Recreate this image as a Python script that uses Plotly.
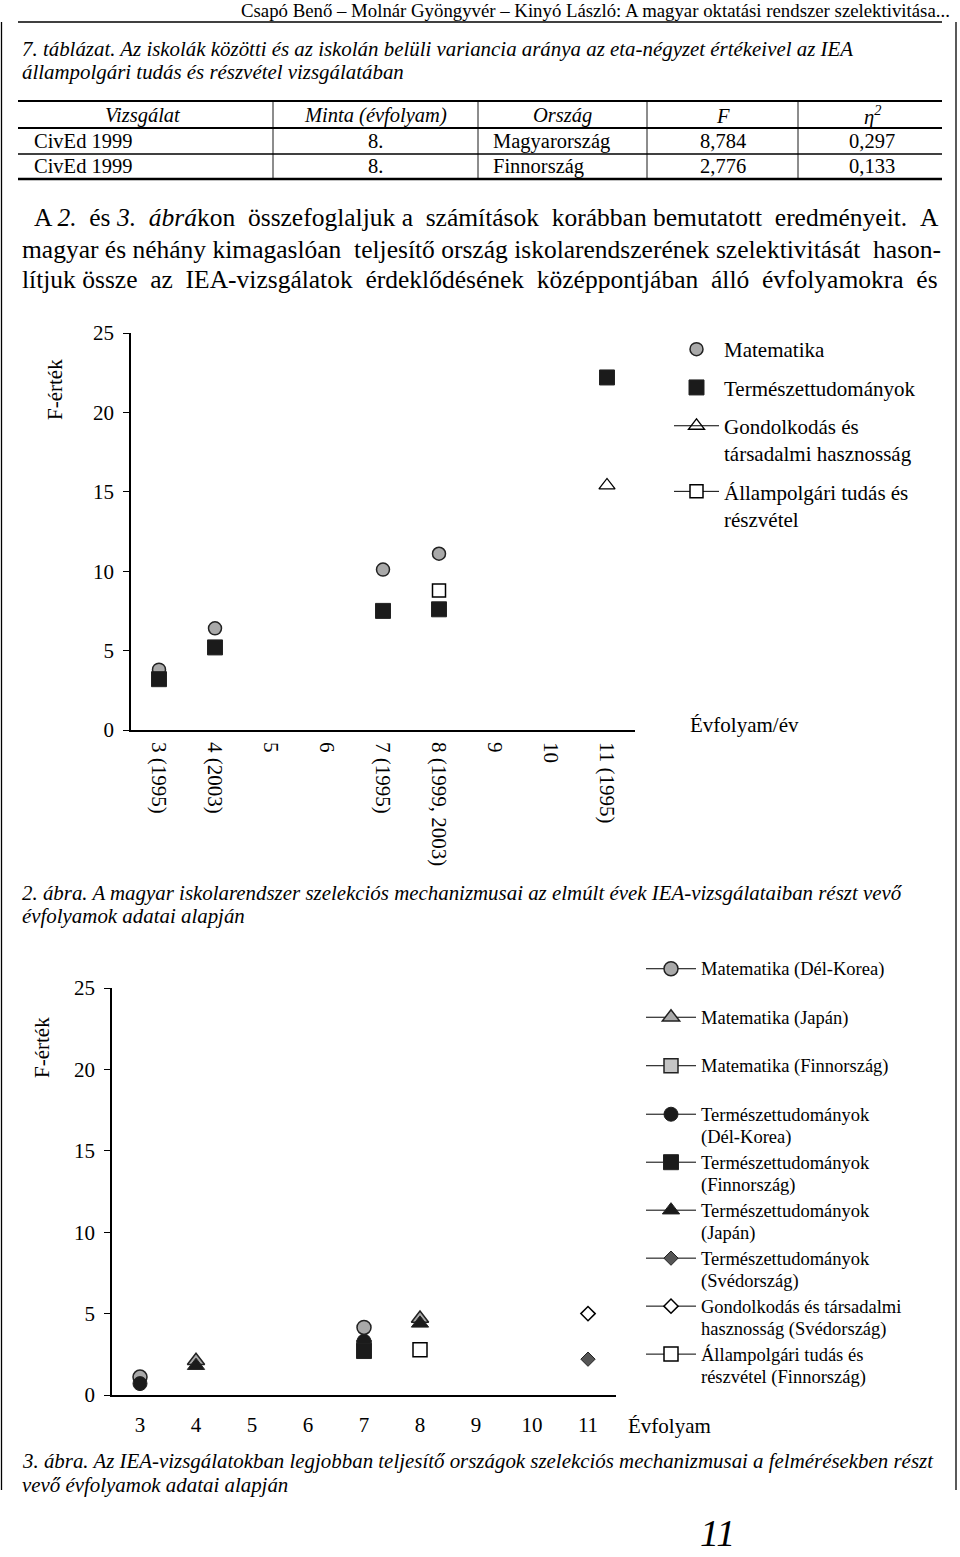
import plotly.graph_objects as go

W, H = 960, 1557
SERIF = "Liberation Serif"

# ---------------- data ----------------
grades = [3, 4, 5, 6, 7, 8, 9, 10, 11]
ticktext_fig2 = ["3 (1995)", "4 (2003)", "5", "6", "7 (1995)", "8 (1999, 2003)", "9", "10", "11 (1995)"]
ticktext_fig3 = ["3", "4", "5", "6", "7", "8", "9", "10", "11"]

# Figure 2 (Hungary)
hu_math = [3.8, 6.4, None, None, 10.1, 11.1, None, None, None]
hu_sci = [3.2, 5.2, None, None, 7.5, 7.6, None, None, 22.2]
hu_think = [None, None, None, None, None, None, None, None, 15.4]
hu_civic = [None, None, None, None, None, 8.784, None, None, None]

# Figure 3 (top performing countries)
kr_math = [1.1, None, None, None, 4.15, None, None, None, None]
jp_math = [None, 2.1, None, None, None, 4.7, None, None, None]
fi_math = [None, None, None, None, 2.9, None, None, None, None]
kr_sci = [0.7, None, None, None, 3.3, None, None, None, None]
fi_sci = [None, None, None, None, 2.7, None, None, None, None]
jp_sci = [None, 1.8, None, None, None, 4.4, None, None, None]
se_sci = [None, None, None, None, None, None, None, None, 2.2]
se_think = [None, None, None, None, None, None, None, None, 5.0]
fi_civic = [None, None, None, None, None, 2.776, None, None, None]

yticks = [0, 5, 10, 15, 20, 25]

# table
table_head = ["Vizsgálat", "Minta (évfolyam)", "Ország", "F", "η<sup>2</sup>"]
table_rows = [
    ["CivEd 1999", "8.", "Magyarország", "8,784", "0,297"],
    ["CivEd 1999", "8.", "Finnország", "2,776", "0,133"],
]


def X(px):
    return px / W


def Y(py):
    return 1 - py / H


fig = go.Figure()

GRAY = "#a9a9a9"
DARK = "#1b1b1b"
OUT = "#222222"

# ---------- chart 1 traces ----------
fig.add_trace(go.Scatter(x=grades, y=hu_math, mode="markers", name="Matematika",
                         marker=dict(symbol="circle", size=13, color=GRAY, line=dict(color=OUT, width=1.5)),
                         xaxis="x", yaxis="y", legend="legend", legendgroup="a1"))
fig.add_trace(go.Scatter(x=grades, y=hu_sci, mode="markers", name="Természettudományok",
                         marker=dict(symbol="square", size=15, color=DARK, line=dict(color=OUT, width=1)),
                         xaxis="x", yaxis="y", legend="legend", legendgroup="a2"))
fig.add_trace(go.Scatter(x=grades, y=hu_think, mode="lines+markers", name="Gondolkodás és<br>társadalmi hasznosság",
                         line=dict(color="black", width=1),
                         marker=dict(symbol="triangle-up-open", size=14, color="black", line=dict(width=1.3)),
                         xaxis="x", yaxis="y", legend="legend", legendgroup="a3"))
fig.add_trace(go.Scatter(x=grades, y=hu_civic, mode="lines+markers", name="Állampolgári tudás és<br>részvétel",
                         line=dict(color="black", width=1),
                         marker=dict(symbol="square", size=13, color="white", line=dict(color="black", width=1.5)),
                         xaxis="x", yaxis="y", legend="legend", legendgroup="a4"))

# ---------- chart 2 traces ----------
ln = dict(color="black", width=1)
series2 = [
    (kr_math, "Matematika (Dél-Korea)", dict(symbol="circle", size=14, color=GRAY, line=dict(color=OUT, width=1.5)), "b1"),
    (jp_math, "Matematika (Japán)", dict(symbol="triangle-up", size=15, color=GRAY, line=dict(color=OUT, width=1.5)), "b2"),
    (fi_math, "Matematika (Finnország)", dict(symbol="square", size=14, color="#c4c4c4", line=dict(color=OUT, width=1.5)), "b3"),
    (kr_sci, "Természettudományok<br>(Dél-Korea)", dict(symbol="circle", size=14, color=DARK, line=dict(color=OUT, width=1)), "b4"),
    (fi_sci, "Természettudományok<br>(Finnország)", dict(symbol="square", size=15, color=DARK, line=dict(color=OUT, width=1)), "b4"),
    (jp_sci, "Természettudományok<br>(Japán)", dict(symbol="triangle-up", size=15, color=DARK, line=dict(color=OUT, width=1)), "b4"),
    (se_sci, "Természettudományok<br>(Svédország)", dict(symbol="diamond", size=11, color="#555555", line=dict(color=OUT, width=1)), "b4"),
    (se_think, "Gondolkodás és társadalmi<br>hasznosság (Svédország)", dict(symbol="diamond", size=11, color="white", line=dict(color="black", width=1.5)), "b4"),
    (fi_civic, "Állampolgári tudás és<br>részvétel (Finnország)", dict(symbol="square", size=14, color="white", line=dict(color="black", width=1.5)), "b4"),
]


def big(s):
    return "<br>".join('<span style="font-size:18.5px">' + p + "</span>" for p in s.split("<br>"))


for vals, name, mk, grp in series2:
    fig.add_trace(go.Scatter(x=grades, y=vals, mode="lines+markers", name=big(name), connectgaps=False,
                             line=ln, marker=mk, xaxis="x2", yaxis="y2",
                             legend="legend2", legendgroup=grp))

axis_common = dict(showgrid=False, zeroline=False, showline=True, linecolor="black", linewidth=1.6,
                   tickfont=dict(family=SERIF, size=21, color="black"))

fig.update_layout(
    width=W, height=H, margin=dict(l=0, r=0, t=0, b=0, pad=0, autoexpand=False),
    paper_bgcolor="white", plot_bgcolor="white",
    font=dict(family=SERIF, color="black"),
    xaxis=dict(domain=[X(131), X(635)], range=[2.5, 11.5], tickvals=grades, ticktext=ticktext_fig2,
               tickangle=90, ticks="", anchor="y", ticklabelstandoff=6, **axis_common),
    yaxis=dict(domain=[Y(730), Y(333)], range=[0, 25], tickvals=yticks, ticks="outside", ticklen=6,
               tickcolor="black", anchor="x", ticklabelstandoff=5, **axis_common),
    xaxis2=dict(domain=[X(112), X(616)], range=[2.5, 11.5], tickvals=grades, ticktext=ticktext_fig3,
                ticks="", anchor="y2", ticklabelstandoff=10, **axis_common),
    yaxis2=dict(domain=[Y(1395), Y(988)], range=[0, 25], tickvals=yticks, ticks="outside", ticklen=6,
                tickcolor="black", anchor="x2", ticklabelstandoff=5, **axis_common),
    legend=dict(x=X(669), y=Y(329), xanchor="left", yanchor="top", traceorder="grouped",
                tracegroupgap=8, valign="top", itemwidth=45, bgcolor="rgba(0,0,0,0)",
                font=dict(family=SERIF, size=21, color="black")),
    legend2=dict(x=X(641), y=Y(951), xanchor="left", yanchor="top", traceorder="grouped",
                 tracegroupgap=23, valign="top", itemwidth=50, bgcolor="rgba(0,0,0,0)",
                 font=dict(family=SERIF, size=17.3, color="black")),
    showlegend=True,
)

ann = []


def text(px, py, s, size, anchor="left", italic=False, angle=0, yanchor="middle"):
    if italic:
        s = "<i>" + s + "</i>"
    ann.append(dict(x=X(px), y=Y(py), xref="paper", yref="paper", text=s, showarrow=False,
                    xanchor=anchor, yanchor=yanchor, textangle=angle,
                    font=dict(family=SERIF, size=size, color="black")))


def spread(line, n):
    """Approximate justified text by adding n non-breaking spaces evenly over the gaps."""
    words = line.split(" ")
    gaps = len(words) - 1
    out = words[0]
    for i in range(gaps):
        k = (n * (i + 1)) // gaps - (n * i) // gaps
        out += " " + "&nbsp;" * k + words[i + 1]
    return out


# header
text(952, 11, "Csapó Benő – Molnár Gyöngyvér – Kinyó László: A magyar oktatási rendszer szelektivitása...", 18.8, anchor="right")
# table caption
text(20, 49, "7. táblázat. Az iskolák közötti és az iskolán belüli variancia aránya az eta-négyzet értékeivel az IEA", 20.9, italic=True)
text(20, 72, "állampolgári tudás és részvétel vizsgálatában", 20.9, italic=True)

# table
col_centers = [143, 375, 562, 723, 872]
row_y = [141.5, 166.5]
head_y = 116
for c, h in zip(col_centers, table_head):
    text(c, head_y, h, 20.5, anchor="center", italic=True)
for ry, row in zip(row_y, table_rows):
    text(32, ry, row[0], 20.5)
    text(375, ry, row[1], 20.5, anchor="center")
    text(491, ry, row[2], 20.5)
    text(723, ry, row[3], 20.5, anchor="center")
    text(872, ry, row[4], 20.5, anchor="center")

# body paragraph
text(32, 217, spread("A <i>2.</i> és <i>3.</i> <i>ábrá</i>kon összefoglaljuk a számítások korábban bemutatott eredményeit. A", 7), 25.5)
text(20, 249, spread("magyar és néhány kimagaslóan teljesítő ország iskolarendszerének szelektivitását hason-", 2), 25.5)
text(20, 280, spread("lítjuk össze az IEA-vizsgálatok érdeklődésének középpontjában álló évfolyamokra és", 7), 25.5)

# chart 1 extras
text(55, 390, "F-érték", 21, anchor="center", angle=-90)
text(688, 725, "Évfolyam/év", 21)

# caption 2
text(20, 893, "2. ábra. A magyar iskolarendszer szelekciós mechanizmusai az elmúlt évek IEA-vizsgálataiban részt vevő", 20.9, italic=True)
text(20, 916, "évfolyamok adatai alapján", 20.9, italic=True)

# chart 2 extras
text(42, 1048, "F-érték", 21, anchor="center", angle=-90)
text(626, 1426, "Évfolyam", 21)

# caption 3
text(20, 1461, "3. ábra. Az IEA-vizsgálatokban legjobban teljesítő országok szelekciós mechanizmusai a felmérésekben részt", 20.9, italic=True)
text(20, 1485, "vevő évfolyamok adatai alapján", 20.9, italic=True)

# page number (kept fully inside the page)
text(717, 1556, "11", 38, anchor="center", italic=True, yanchor="bottom")

fig.update_layout(annotations=ann)

shapes = []


def hline(x0, x1, py, w=1.0):
    shapes.append(dict(type="line", xref="paper", yref="paper", x0=X(x0), x1=X(x1), y0=Y(py), y1=Y(py),
                       line=dict(color="black", width=w)))


def vline(px, y0, y1, w=1.0):
    shapes.append(dict(type="line", xref="paper", yref="paper", x0=X(px), x1=X(px), y0=Y(y0), y1=Y(y1),
                       line=dict(color="black", width=w)))


hline(18, 942, 22, 1.5)
vline(1.5, 22, 1490, 1.3)
vline(956, 22, 1490, 1.3)
# table lines
hline(18, 942, 101, 2.2)
hline(18, 942, 128, 1.8)
hline(18, 942, 154, 1.4)
hline(18, 942, 179, 2.4)
for cx in [273, 478, 647, 798]:
    vline(cx, 101, 179, 0.9)

fig.update_layout(shapes=shapes)

post = ("document.documentElement.style.margin='0';document.body.style.margin='0';"
        "document.body.style.padding='0';document.documentElement.style.overflow='hidden';"
        "var d=document.getElementById('{plot_id}');d.style.position='absolute';"
        "d.style.left='0px';d.style.top='0px';")
fig.write_html("out.html", post_script=post, config={"displayModeBar": False})
